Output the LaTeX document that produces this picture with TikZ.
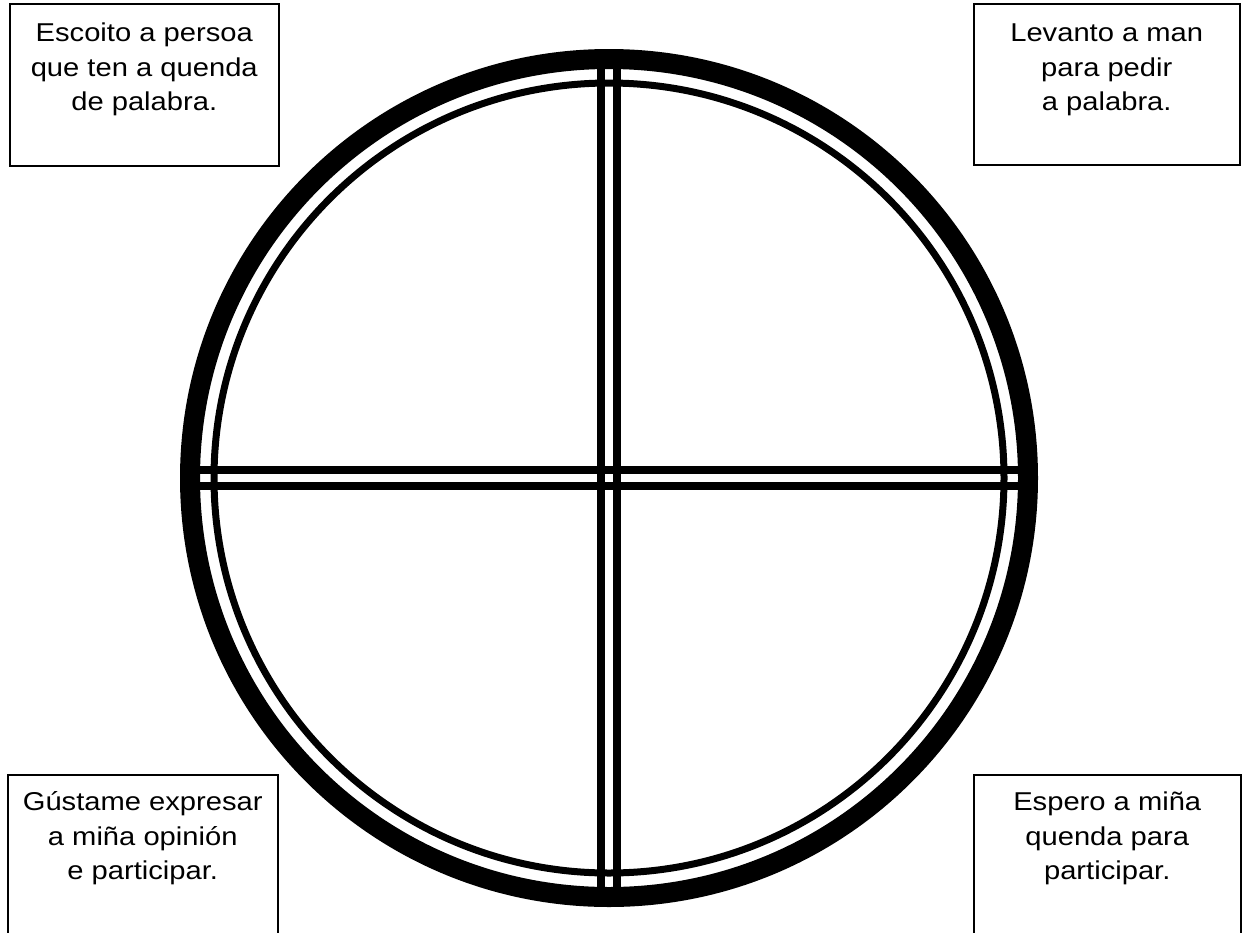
\documentclass[tikz,border=0pt]{standalone}
\usepackage{fontspec}
\usetikzlibrary{positioning}
\newfontfamily\boxfont{Liberation Sans}[FakeStretch=1.13]

\begin{document}
\begin{tikzpicture}[
    x=1pt, y=-1pt,
    ring/.style={draw=black,line width=20pt},
    thinring/.style={draw=black,line width=7pt},
    spoke/.style={draw=black,line width=7.5pt},
    infobox/.style={rectangle,draw=black,line width=1.5pt,fill=white,anchor=north west},
    boxtext/.style={inner sep=0pt,align=center,anchor=north,
      font=\boxfont\fontsize{25.8pt}{34.5pt}\selectfont}
  ]
    \useasboundingbox (0,0) rectangle (1242,932);
    \coordinate (hub) at (609,478);

    % double cross
    \foreach \d in {-8,8} {
      \draw[spoke] ([xshift=\d pt,yshift=419pt]hub) -- ([xshift=\d pt,yshift=-419pt]hub);
      \draw[spoke] ([xshift=-419pt,yshift=\d pt]hub) -- ([xshift=419pt,yshift=\d pt]hub);
    }
    \draw[thinring] (hub) circle[radius=395pt];
    \draw[ring] (hub) circle[radius=419pt];

    % the four boxes
    \node[infobox,minimum width=269pt,minimum height=162pt] (escoito) at (9,3) {};
    \node[infobox,minimum width=266pt,minimum height=161pt] (levanto) at (973,3) {};
    \node[infobox,minimum width=270pt,minimum height=200pt] (gustame) at (7,774) {};
    \node[infobox,minimum width=267pt,minimum height=200pt] (espero) at (973,774) {};

    \node[boxtext,below=17.7pt of escoito.north] (escoitotxt)
      {\rule{0pt}{21pt}Escoito a persoa\\que ten a quenda\\de palabra.};
    \node[boxtext,below=17.7pt of levanto.north] (levantotxt)
      {\rule{0pt}{21pt}Levanto a man\\para pedir\\a palabra.};
    \node[boxtext,below=15.5pt of gustame.north] (gustametxt)
      {\rule{0pt}{21pt}Gústame expresar\\a miña opinión\\e participar.};
    \node[boxtext,below=15.5pt of espero.north] (esperotxt)
      {\rule{0pt}{21pt}Espero a miña\\quenda para\\participar.};
  \end{tikzpicture}
\end{document}
